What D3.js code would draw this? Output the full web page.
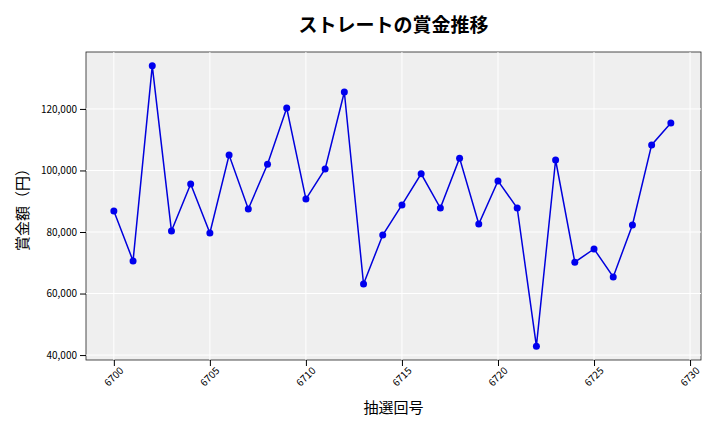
<!DOCTYPE html>
<html><head><meta charset="utf-8">
<script src="https://cdn.jsdelivr.net/npm/d3@7"></script>
<style>body{margin:0;background:#fff}text{font-family:"Noto Sans CJK JP","DejaVu Sans",sans-serif}</style>
</head><body><div id="chart"></div>
<script>
// 抽選回号と賞金額
const draws = d3.range(6700, 6730)
const prizes = [86800, 70600, 134000, 80300, 95600, 79700, 105000, 87500, 102000, 120300,
  90700, 100500, 125500, 63100, 79000, 88800, 98900, 87800, 104000, 82600,
  96600, 87800, 42900, 103400, 70200, 74500, 65400, 82300, 108300, 115400]
const xTicks = [6700, 6705, 6710, 6715, 6720, 6725, 6730]
const yTicks = [40000, 60000, 80000, 100000, 120000]

const W = 720, H = 432
const m = {left: 86, right: 19, top: 52, bottom: 72}
const svg = d3.select("#chart").append("svg").attr("width", W).attr("height", H)

const x = d3.scaleLinear().domain([6698.55, 6730.57]).range([m.left, W - m.right])
const y = d3.scaleLinear().domain([38400, 138500]).range([H - m.bottom, m.top])

svg.append("rect").attr("x", m.left).attr("y", m.top)
  .attr("width", W - m.left - m.right).attr("height", H - m.top - m.bottom)
  .attr("fill", "#efefef").attr("stroke", "#222").attr("stroke-width", 0.8)

// グリッド
svg.append("g").selectAll("line").data(xTicks).join("line")
  .attr("x1", d => x(d)).attr("x2", d => x(d)).attr("y1", m.top).attr("y2", H - m.bottom)
  .attr("stroke", "#fff").attr("stroke-width", 1)
svg.append("g").selectAll("line").data(yTicks).join("line")
  .attr("y1", d => y(d)).attr("y2", d => y(d)).attr("x1", m.left).attr("x2", W - m.right)
  .attr("stroke", "#fff").attr("stroke-width", 1)

const xa = svg.append("g").attr("transform", `translate(0,${H - m.bottom})`)
  .call(d3.axisBottom(x).tickValues(xTicks).tickFormat(d3.format("d")).tickSizeOuter(0))
xa.select(".domain").remove()
xa.selectAll("text").attr("transform", "rotate(-45)").attr("text-anchor", "end")
  .attr("dx", "-0.1em").attr("dy", "0.6em").style("font-size", "10px")

const ya = svg.append("g").attr("transform", `translate(${m.left},0)`)
  .call(d3.axisLeft(y).tickValues(yTicks).tickFormat(d3.format(",")).tickSizeOuter(0))
ya.select(".domain").remove()
ya.selectAll("text").style("font-size", "10px")

const pts = draws.map((d, i) => [d, prizes[i]])
svg.append("path").datum(pts)
  .attr("d", d3.line().x(d => x(d[0])).y(d => y(d[1])))
  .attr("fill", "none").attr("stroke", "#0000dd").attr("stroke-width", 1.5)
svg.append("g").selectAll("circle").data(pts).join("circle")
  .attr("cx", d => x(d[0])).attr("cy", d => y(d[1])).attr("r", 3.5).attr("fill", "#0000ee")

svg.append("text").attr("x", (m.left + W - m.right) / 2).attr("y", 32)
  .attr("text-anchor", "middle").style("font-size", "19px").style("font-weight", "bold")
  .text("ストレートの賞金推移")
svg.append("text").attr("x", (m.left + W - m.right) / 2).attr("y", 413)
  .attr("text-anchor", "middle").style("font-size", "15px").text("抽選回号")
svg.append("text").attr("transform", `translate(28,${(m.top + H - m.bottom) / 2}) rotate(-90)`)
  .attr("text-anchor", "middle").style("font-size", "15px").text("賞金額（円）")
</script></body></html>
